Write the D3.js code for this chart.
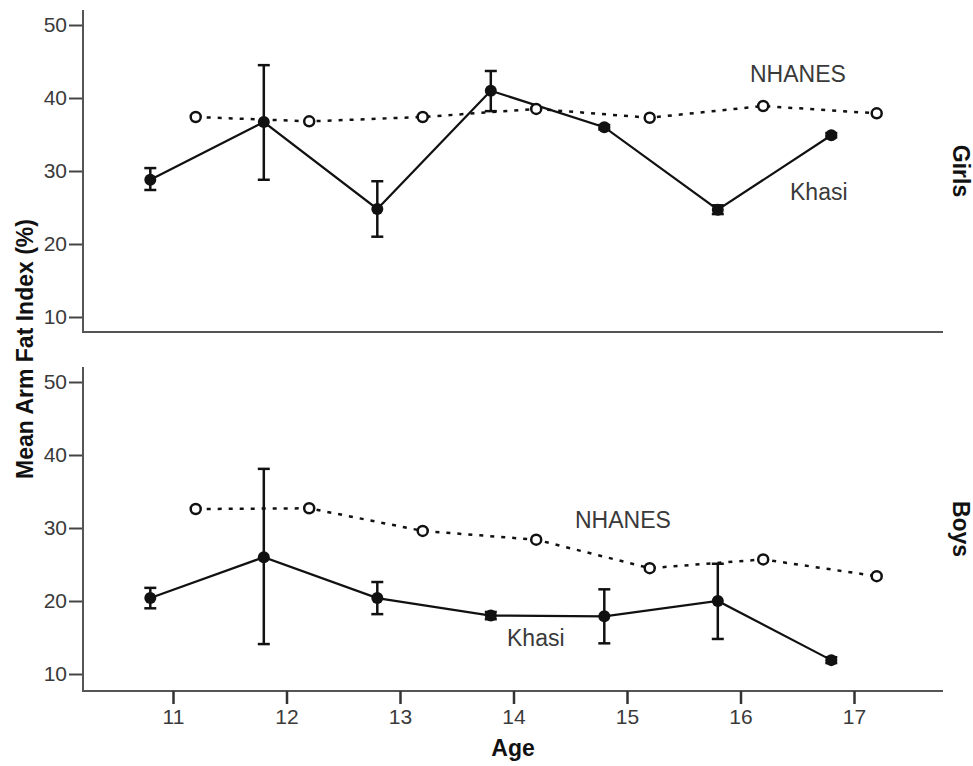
<!DOCTYPE html>
<html>
<head>
<meta charset="utf-8">
<script src="https://cdn.jsdelivr.net/npm/d3@7"></script>
<style>
  body { margin: 0; background: #fff; }
  svg { display: block; font-family: "Liberation Sans", Arial, sans-serif; }
  .tick text { fill: #3a3a3a; font-size: 21px; }
  .lbl { fill: #3a3a3a; font-size: 23px; }
  .title { fill: #111; font-size: 23px; font-weight: bold; }
</style>
</head>
<body>
<div id="chart"></div>
<script>
const ages = [11, 12, 13, 14, 15, 16, 17];
const yTicks = [10, 20, 30, 40, 50];

// Girls
const girlsKhasi = [28.8, 36.7, 24.8, 41.0, 36.0, 24.7, 34.9];
const girlsKhasiLow = [27.4, 28.8, 21.0, 38.2, 35.7, 24.1, 34.6];
const girlsKhasiHigh = [30.4, 44.5, 28.6, 43.7, 36.3, 25.3, 35.2];
const girlsNhanes = [37.4, 36.8, 37.4, 38.5, 37.3, 38.9, 37.9];

// Boys
const boysKhasi = [20.4, 26.0, 20.4, 18.0, 17.9, 20.0, 11.9];
const boysKhasiLow = [19.0, 14.1, 18.2, 17.5, 14.2, 14.8, 11.5];
const boysKhasiHigh = [21.8, 38.1, 22.6, 18.5, 21.6, 25.1, 12.3];
const boysNhanes = [32.6, 32.7, 29.6, 28.4, 24.5, 25.7, 23.4];

const width = 973, height = 766;
const svg = d3.select('#chart').append('svg')
  .attr('width', width).attr('height', height);

const x = d3.scaleLinear().domain([11, 17]).range([173, 854]);
const axisLeft = 83, axisRight = 943;
const shift = 0.2; // khasi drawn left of the age, NHANES right of it

const panels = [
  { name: 'Girls', top: 10, bottom: 332, y50: 25, y10: 317,
    khasi: girlsKhasi, low: girlsKhasiLow, high: girlsKhasiHigh, nhanes: girlsNhanes,
    nhLabel: [750, 82], khLabel: [790, 200], ticks: false },
  { name: 'Boys', top: 367, bottom: 691, y50: 382, y10: 674,
    khasi: boysKhasi, low: boysKhasiLow, high: boysKhasiHigh, nhanes: boysNhanes,
    nhLabel: [575, 528], khLabel: [507, 646], ticks: true }
];

panels.forEach(p => {
  const y = d3.scaleLinear().domain([10, 50]).range([p.y10, p.y50]);
  const g = svg.append('g');

  // y axis
  const ya = g.append('g')
    .attr('transform', `translate(${axisLeft},0)`)
    .call(d3.axisLeft(y).tickValues(yTicks).tickSize(14).tickPadding(2));
  ya.select('.domain').remove();
  ya.selectAll('.tick line').attr('stroke', '#444').attr('stroke-width', 2);

  // axis frame lines
  g.append('path')
    .attr('d', `M${axisLeft},${p.top}V${p.bottom}H${axisRight}`)
    .attr('fill', 'none').attr('stroke', '#555').attr('stroke-width', 2);

  if (p.ticks) {
    const xa = g.append('g')
      .attr('transform', `translate(0,${p.bottom})`)
      .call(d3.axisBottom(x).tickValues(ages).tickFormat(d3.format('d')).tickSize(13).tickPadding(5));
    xa.select('.domain').remove();
    xa.selectAll('.tick line').attr('stroke', '#333').attr('stroke-width', 2.5);
  }

  // NHANES dotted line
  g.append('path')
    .datum(p.nhanes)
    .attr('fill', 'none').attr('stroke', '#111').attr('stroke-width', 2.5)
    .attr('stroke-dasharray', '4,7')
    .attr('d', d3.line().x((d, i) => x(ages[i] + shift)).y(d => y(d)));

  // Khasi solid line
  g.append('path')
    .datum(p.khasi)
    .attr('fill', 'none').attr('stroke', '#111').attr('stroke-width', 2.2)
    .attr('d', d3.line().x((d, i) => x(ages[i] - shift)).y(d => y(d)));

  // error bars
  const eb = g.append('g').attr('stroke', '#111').attr('stroke-width', 2.5);
  ages.forEach((a, i) => {
    const cx = x(a - shift);
    eb.append('line').attr('x1', cx).attr('x2', cx)
      .attr('y1', y(p.low[i])).attr('y2', y(p.high[i]));
    [p.low[i], p.high[i]].forEach(v => {
      eb.append('line').attr('x1', cx - 6).attr('x2', cx + 6)
        .attr('y1', y(v)).attr('y2', y(v));
    });
  });

  // NHANES open circles
  g.selectAll('circle.nh')
    .data(p.nhanes)
    .join('circle')
      .attr('class', 'nh')
      .attr('cx', (d, i) => x(ages[i] + shift))
      .attr('cy', d => y(d))
      .attr('r', 5)
      .attr('fill', '#fff').attr('stroke', '#111').attr('stroke-width', 2.5);

  // Khasi filled circles
  g.selectAll('circle.kh')
    .data(p.khasi)
    .join('circle')
      .attr('class', 'kh')
      .attr('cx', (d, i) => x(ages[i] - shift))
      .attr('cy', d => y(d))
      .attr('r', 6)
      .attr('fill', '#111');

  g.append('text').attr('class', 'lbl')
    .attr('x', p.nhLabel[0]).attr('y', p.nhLabel[1]).text('NHANES');
  g.append('text').attr('class', 'lbl')
    .attr('x', p.khLabel[0]).attr('y', p.khLabel[1]).text('Khasi');

  // panel strip label on the right
  g.append('text').attr('class', 'title')
    .attr('text-anchor', 'middle')
    .attr('transform', `translate(953,${(p.top + p.bottom) / 2}) rotate(90)`)
    .text(p.name);
});

svg.append('text').attr('class', 'title')
  .attr('text-anchor', 'middle')
  .attr('transform', 'translate(33,349) rotate(-90)')
  .text('Mean Arm Fat Index (%)');

svg.append('text').attr('class', 'title')
  .attr('text-anchor', 'middle')
  .attr('x', 513).attr('y', 756)
  .text('Age');
</script>
</body>
</html>
